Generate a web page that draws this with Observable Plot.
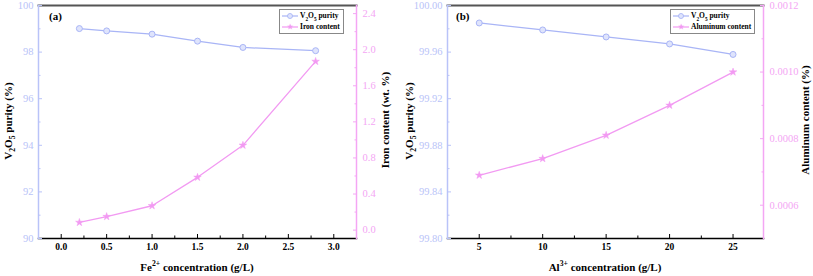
<!DOCTYPE html>
<html>
<head>
<meta charset="utf-8">
<script src="https://cdn.jsdelivr.net/npm/d3@7"></script>
<script src="https://cdn.jsdelivr.net/npm/@observablehq/plot@0.6"></script>
<style>
  html, body { margin: 0; padding: 0; background: #fff; }
  #root { position: relative; width: 813px; height: 276px; overflow: hidden; font-family: "Liberation Serif", "DejaVu Serif", serif; font-weight: bold; }
  .layer { position: absolute; top: 0; }
  .title { position: absolute; white-space: nowrap; font-size: 11px; color: #000; transform: translate(-50%, -50%); }
  .rot { transform: translate(-50%, -50%) rotate(-90deg); }
  .tag { position: absolute; font-size: 11px; color: #000; }
  .legend { position: absolute; border: 1px solid #888; background: #fff; font-size: 7.5px; padding: 1px 3px 1px 2px; line-height: 10.5px; }
  .legend div { display: flex; align-items: center; white-space: nowrap; }
  .legend svg { margin-right: 2px; }
  sub, sup { font-size: 70%; line-height: 0; }
</style>
</head>
<body>
<div id="root"></div>
<script>
// ---- data (panel a) ----
const feConc = [0.2, 0.5, 1.0, 1.5, 2.0, 2.8];
const fePurity = [99.01, 98.91, 98.77, 98.47, 98.20, 98.06];
const ironContent = [0.085, 0.15, 0.27, 0.585, 0.94, 1.87];
const feXTicks = [0, 0.5, 1.0, 1.5, 2.0, 2.5, 3.0];
const feXMinor = [0.25, 0.75, 1.25, 1.75, 2.25, 2.75];
const purityTicksA = [90, 92, 94, 96, 98, 100];
const purityMinorA = [91, 93, 95, 97, 99];
const ironTicks = [0, 0.4, 0.8, 1.2, 1.6, 2.0, 2.4];
const ironMinor = [0.2, 0.6, 1.0, 1.4, 1.8, 2.2];

// ---- data (panel b) ----
const alConc = [5, 10, 15, 20, 25];
const alPurity = [99.985, 99.979, 99.973, 99.967, 99.958];
const alContent = [0.00069, 0.00074, 0.00081, 0.00090, 0.00100];
const alXTicks = [5, 10, 15, 20, 25];
const alXMinor = [7.5, 12.5, 17.5, 22.5];
const purityTicksB = [99.80, 99.84, 99.88, 99.92, 99.96, 100.00];
const purityMinorB = [99.82, 99.86, 99.90, 99.94, 99.98];
const alTicks = [0.0006, 0.0008, 0.0010, 0.0012];
const alMinor = [0.0007, 0.0009, 0.0011];

const BLUE = "#a9b5f6";
const BLUE_AX = "#b9c3f8";
const PINK = "#f29af2";
const PINK_AX = "#f4a6f4";
const H = 276, MT = 5, MB = 38;
const FONT = "'Liberation Serif', 'DejaVu Serif', serif";

function style() {
  return {fontFamily: FONT, fontSize: "9.5px", fontWeight: "bold", background: "transparent", overflow: "visible"};
}

function leftPlot(p) {
  const idx = d3.range(p.x.length);
  return Plot.plot({
    width: p.w, height: H, marginTop: MT, marginBottom: MB, marginLeft: p.ml, marginRight: p.mr,
    x: {domain: p.xDomain}, y: {domain: p.yDomain},
    style: style(),
    marks: [
      Plot.frame({anchor: "top", stroke: "#555", strokeWidth: 2}),
      Plot.frame({anchor: "bottom", stroke: "#000", strokeWidth: 1.5}),
      Plot.frame({anchor: "left", stroke: BLUE_AX, strokeWidth: 1.5}),
      Plot.axisX({ticks: p.xTicks, tickSize: -4, tickFormat: () => "", label: null, stroke: "#000"}),
      Plot.axisX({ticks: p.xMinor, tickSize: -2.5, tickFormat: () => "", label: null, stroke: "#000"}),
      Plot.axisX({ticks: p.xTicks, tickSize: 0, tickPadding: 5, tickFormat: p.xFmt, label: null, fill: "#000"}),
      Plot.axisY({ticks: p.yTicks, tickSize: -4, tickFormat: () => "", label: null, stroke: BLUE_AX}),
      Plot.axisY({ticks: p.yMinor, tickSize: -2.5, tickFormat: () => "", label: null, stroke: BLUE_AX}),
      Plot.axisY({ticks: p.yTicks, tickSize: 0, tickPadding: 5, tickFormat: p.yFmt, label: null, fill: BLUE_AX, fontSize: 10.5, fontWeight: "normal"}),
      Plot.line(idx, {x: i => p.x[i], y: i => p.y[i], stroke: BLUE, strokeWidth: 1.3}),
      Plot.dot(idx, {x: i => p.x[i], y: i => p.y[i], r: 3, fill: "#dfe4fc", stroke: BLUE, strokeWidth: 1})
    ]
  });
}

function rightPlot(p) {
  const idx = d3.range(p.x.length);
  return Plot.plot({
    width: p.w, height: H, marginTop: MT, marginBottom: MB, marginLeft: p.ml, marginRight: p.mr,
    x: {domain: p.xDomain, axis: null}, y: {domain: p.rDomain},
    style: style(),
    marks: [
      Plot.frame({anchor: "right", stroke: PINK_AX, strokeWidth: 1.5}),
      Plot.axisY({anchor: "right", ticks: p.rTicks, tickSize: -4, tickFormat: () => "", label: null, stroke: PINK_AX}),
      Plot.axisY({anchor: "right", ticks: p.rMinor, tickSize: -2.5, tickFormat: () => "", label: null, stroke: PINK_AX}),
      Plot.axisY({anchor: "right", ticks: p.rTicks, tickSize: 0, tickPadding: 6, tickFormat: p.rFmt, label: null, fill: PINK_AX, fontSize: 10.5, fontWeight: "normal"}),
      Plot.line(idx, {x: i => p.x[i], y: i => p.r[i], stroke: PINK, strokeWidth: 1.3}),
      Plot.dot(idx, {x: i => p.x[i], y: i => p.r[i], symbol: "star", r: 2.4, fill: PINK, stroke: PINK, strokeWidth: 0.5})
    ]
  });
}

const panels = [
  {left: 0, w: 405, ml: 38, mr: 49, xDomain: [-0.25, 3.25], xTicks: feXTicks, xMinor: feXMinor, xFmt: d3.format(".1f"),
   x: feConc, y: fePurity, yDomain: [90, 100], yTicks: purityTicksA, yMinor: purityMinorA, yFmt: d3.format("d"),
   r: ironContent, rDomain: [-0.093, 2.49], rTicks: ironTicks, rMinor: ironMinor, rFmt: d3.format(".1f")},
  {left: 405, w: 408, ml: 42, mr: 50, xDomain: [2.5, 27.4], xTicks: alXTicks, xMinor: alXMinor, xFmt: d3.format("d"),
   x: alConc, y: alPurity, yDomain: [99.80, 100.00], yTicks: purityTicksB, yMinor: purityMinorB, yFmt: d3.format(".2f"),
   r: alContent, rDomain: [0.0005, 0.0012], rTicks: alTicks, rMinor: alMinor, rFmt: d3.format(".4f")}
];

const root = document.getElementById("root");
for (const p of panels) {
  for (const svg of [leftPlot(p), rightPlot(p)]) {
    const wrap = document.createElement("div");
    wrap.className = "layer";
    wrap.style.left = p.left + "px";
    wrap.appendChild(svg);
    root.appendChild(wrap);
  }
}

function addHTML(html) { root.insertAdjacentHTML("beforeend", html); }

// panel tags
addHTML('<div class="tag" style="left:49px;top:10px">(a)</div>');
addHTML('<div class="tag" style="left:456px;top:10px">(b)</div>');

// axis titles
addHTML('<div class="title rot" style="left:8px;top:121px">V<sub>2</sub>O<sub>5</sub> purity (%)</div>');
addHTML('<div class="title rot" style="left:385px;top:120px">Iron content (wt. %)</div>');
addHTML('<div class="title rot" style="left:409px;top:121px">V<sub>2</sub>O<sub>5</sub> purity (%)</div>');
addHTML('<div class="title rot" style="left:805px;top:120px">Aluminum content (%)</div>');
addHTML('<div class="title" style="left:197px;top:267px">Fe<sup>2+</sup> concentration (g/L)</div>');
addHTML('<div class="title" style="left:605px;top:267px">Al<sup>3+</sup> concentration (g/L)</div>');

// legends
function sample(color, marker) {
  const m = marker === "circle"
    ? `<circle cx="8" cy="4" r="2.5" fill="#dfe4fc" stroke="${color}" stroke-width="0.9"/>`
    : `<text x="8" y="6.4" text-anchor="middle" font-size="6.5" fill="${color}">★</text>`;
  return `<svg width="16" height="8"><line x1="0" y1="4" x2="16" y2="4" stroke="${color}" stroke-width="1.2"/>${m}</svg>`;
}
addHTML(`<div class="legend" style="left:279px;top:9px">
  <div>${sample(BLUE, "circle")}<span>V<sub>2</sub>O<sub>5</sub>&nbsp;purity</span></div>
  <div>${sample(PINK, "star")}<span>Iron content</span></div></div>`);
addHTML(`<div class="legend" style="left:670px;top:9px">
  <div>${sample(BLUE, "circle")}<span>V<sub>2</sub>O<sub>5</sub>&nbsp;purity</span></div>
  <div>${sample(PINK, "star")}<span>Aluminum content</span></div></div>`);
</script>
</body>
</html>
